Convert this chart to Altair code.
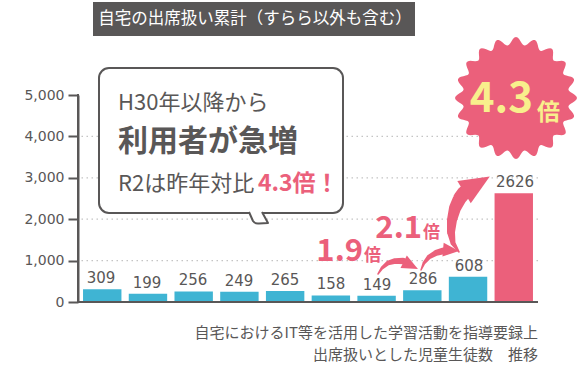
import altair as alt
import pandas as pd
import numpy as np

# ---------------- data ----------------
years = ["H23", "H24", "H25", "H26", "H27", "H28", "H29", "H30", "R1", "R2"]
counts = [309, 199, 256, 249, 265, 158, 149, 286, 608, 2626]
y_ticks = [0, 1000, 2000, 3000, 4000, 5000]
grid_vals = [1000, 2000, 3000, 4000]

title_text = "自宅の出席扱い累計（すらら以外も含む）"
callout_1 = "H30年以降から"
callout_2 = "利用者が急増"
callout_3 = "R2は昨年対比"
callout_4 = "4.3倍！"
caption_lines = ["自宅におけるIT等を活用した学習活動を指導要録上", "出席扱いとした児童生徒数　推移"]
badge_num = "4.3"
ratio_nums = ["1.9", "2.1"]
bai = "倍"

# growth arrows (x in bar-slot units, y in counts)
arrow_id = [1] * 5 + [2] * 5 + [3] * 7
arrow_x = [6.522, 6.609, 6.739, 6.891, 7.065,
           7.457, 7.522, 7.630, 7.783, 7.935,
           8.283, 8.152, 8.109, 8.130, 8.196, 8.304, 8.391]
arrow_y = [676, 821, 942, 990, 990,
           773, 942, 1087, 1184, 1232,
           1208, 1425, 1691, 1981, 2271, 2512, 2633]
arrow_w = [1.5, 3, 4.5, 5.5, 6.5,
           1.5, 3, 4.5, 6, 7,
           1.5, 5, 8, 10, 12, 13.5, 14]
head_x = [7.235, 8.109, 8.672]
head_y = [884, 1249, 2842]
head_size = [256, 256, 900]
head_angle = [117, 95, 59]

# ---------------- styles ----------------
FONT = "Noto Sans CJK JP"
NUMFONT = "DejaVu Sans"
GRAY = "#595757"
BLUE = "#3fb4d3"
PINK = "#eb607b"
YELLOW = "#f8ef8c"

W, H = 460, 207

yscale = alt.Scale(domain=[0, 5000], nice=False, zero=True)
YAXIS = alt.Axis(values=y_ticks, format=",.0f", grid=False, title=None,
                 domain=True, domainColor=GRAY, domainWidth=2, tickColor=GRAY,
                 tickWidth=2, tickSize=10, labelFont=NUMFONT,
                 labelFontSize=14, labelColor=GRAY, labelPadding=4)


def Y(field):
    return alt.Y(field, scale=yscale, axis=YAXIS, title=None)


xband = alt.X("year:N", sort=years, axis=None,
              scale=alt.Scale(paddingInner=0.16, paddingOuter=0.11))

bars_df = pd.DataFrame({"year": years, "count": counts})

grid = alt.Chart(pd.DataFrame({"count": grid_vals})).mark_rule(
    color="#c4c4c4", strokeDash=[1.5, 3.5], strokeWidth=1.3
).encode(y=Y("count:Q"))

bars = alt.Chart(bars_df).mark_bar().encode(
    x=xband,
    y=Y("count:Q"),
    color=alt.condition(alt.datum.year == years[-1], alt.value(PINK), alt.value(BLUE)),
)

labels = alt.Chart(bars_df).mark_text(
    dy=-6, baseline="alphabetic", fontSize=15, font=NUMFONT, color=GRAY
).encode(x=xband, y=Y("count:Q"), text="count:Q")

baseline = alt.Chart(pd.DataFrame({"count": [0]})).mark_rule(
    color=GRAY, strokeWidth=2
).encode(y=Y("count:Q"))

one = pd.DataFrame({"a": [0]})

# vertical axis line (full plot height)
yline = alt.Chart(one).mark_rule(color=GRAY, strokeWidth=2).encode(
    x=alt.value(0), y=alt.value(-1), y2=alt.value(H + 1))


def txt(text, x, y, size, color=GRAY, weight="normal", align="left",
        baseline="alphabetic", font=FONT):
    return alt.Chart(one).mark_text(
        text=text, fontSize=size, fontWeight=weight, color=color, align=align,
        baseline=baseline, font=font
    ).encode(x=alt.value(x), y=alt.value(y))


# title box
title_box = alt.Chart(one).mark_rect(fill=GRAY).encode(
    x=alt.value(15), x2=alt.value(337), y=alt.value(-93), y2=alt.value(-59))
title_t = txt(title_text, 177, -76, 16.5, color="white", align="center", baseline="middle")

# callout
call_box = alt.Chart(one).mark_rect(
    fill="white", stroke=GRAY, strokeWidth=2, cornerRadius=10
).encode(x=alt.value(21), x2=alt.value(265), y=alt.value(-27), y2=alt.value(118))
TAIL = "M-0.9,-0.5 L-0.5,0.4 Q-0.3,0.7 0.1,0.65 L1,0.6 L0.4,-0.5"
tail = alt.Chart(one).mark_point(
    shape=TAIL, fill="white", stroke=GRAY, strokeWidth=2, size=400, opacity=1,
    fillOpacity=1, strokeJoin="round"
).encode(x=alt.value(180), y=alt.value(122))
c1 = txt(callout_1, 40, 15, 22)
c2 = txt(callout_2, 40, 56, 30, weight="bold")
c3 = txt(callout_3, 40, 96, 22)
c4 = txt(callout_4, 180, 96, 23, color=PINK, weight="bold")

# badge
ang = np.linspace(0, 2 * np.pi, 241)[:-1]
rad = 0.935 + 0.065 * np.cos(20 * ang)
pts = [f"{rad[i] * np.sin(ang[i]):.4f},{-rad[i] * np.cos(ang[i]):.4f}" for i in range(len(ang))]
BADGE = "M" + " L".join(pts) + " Z"
badge = alt.Chart(one).mark_point(
    shape=BADGE, filled=True, color=PINK, opacity=1, size=122 * 122
).encode(x=alt.value(438), y=alt.value(3))
b1 = txt(badge_num, 455, 17, 42, color=YELLOW, weight="bold", align="right")
b2 = txt(bai, 459, 25, 23, color=YELLOW, weight="bold")

# arrows
arrow_df = pd.DataFrame({"arrow": arrow_id, "xu": arrow_x, "yv": arrow_y, "w": arrow_w,
                         "i": list(range(len(arrow_x)))})
xs = alt.Scale(domain=[0, 10], nice=False, zero=False)
arrows = alt.Chart(arrow_df).mark_trail(color=PINK, opacity=1).encode(
    x=alt.X("xu:Q", scale=xs, axis=None),
    y=Y("yv:Q"),
    size=alt.Size("w:Q", scale=None, legend=None),
    detail="arrow:N",
    order="i:Q",
)
HEAD = "M0,-1 L0.87,1 L-0.87,1 Z"
head_df = pd.DataFrame({"xu": head_x, "yv": head_y, "s": head_size, "a": head_angle})
heads = alt.Chart(head_df).mark_point(shape=HEAD, filled=True, color=PINK, opacity=1).encode(
    x=alt.X("xu:Q", scale=xs, axis=None),
    y=Y("yv:Q"),
    size=alt.Size("s:Q", scale=None, legend=None),
    angle=alt.Angle("a:Q", scale=None),
)

r1 = txt(ratio_nums[0], 285, 166, 31, color=PINK, weight="bold", align="right")
r1b = txt(bai, 286, 166, 17, color=PINK, weight="bold")
r2 = txt(ratio_nums[1], 344, 143, 31, color=PINK, weight="bold", align="right")
r2b = txt(bai, 345, 143, 17, color=PINK, weight="bold")

cap1 = txt(caption_lines[0], 460, 238, 15, align="right", baseline="middle")
cap2 = txt(caption_lines[1], 460, 260, 15, align="right", baseline="middle")

chart = alt.layer(
    grid, bars, labels, baseline, yline, title_box, title_t, call_box, tail, c1, c2, c3, c4,
    badge, b1, b2, arrows, heads, r1, r1b, r2, r2b, cap1, cap2
).resolve_scale(x="independent").properties(
    width=W, height=H,
    autosize=alt.AutoSizeParams(type="none"),
    padding={"left": 78, "top": 95, "right": 41, "bottom": 76},
    background="white",
).configure_view(strokeWidth=0)

chart.save("out.html", embed_options={"renderer": "svg", "actions": False})
